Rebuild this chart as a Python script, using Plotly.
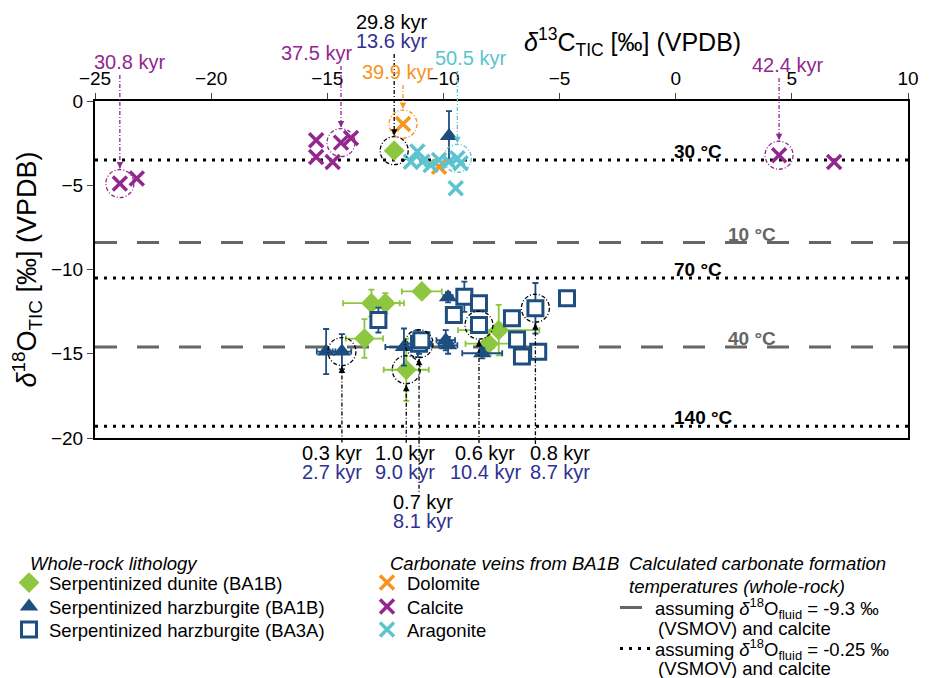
import plotly.graph_objects as go

# ---------------- data ----------------
dunite_x = [-12.12, -13.1, -12.5, -10.93, -13.4, -11.6, -7.62, -8.05]
dunite_y = [-2.95, -12.0, -12.0, -11.3, -14.1, -15.95, -13.6, -14.4]
dunite_xerr = [0.0, 1.22, 0.8, 0.86, 0.8, 0.97, 1.75, 1.0]
dunite_yerr = [0.0, 0.8, 0.6, 0.2, 1.15, 1.85, 1.5, 0.7]

harzA_x = [-9.76, -15.05, -14.37, -11.7, -9.8, -9.9, -9.8, -8.33, -11.1]
harzA_y = [-2.08, -14.87, -14.87, -14.6, -11.65, -14.2, -14.5, -14.97, -14.4]
harzA_xerr = [0.0, 0.4, 0.4, 0.8, 0.2, 0.4, 0.4, 0.86, 0.6]
harzA_yerr = [1.48, 1.34, 1.04, 1.1, 0.3, 0.6, 0.5, 0.3, 0.8]

harzB_x = [-12.8, -11.05, -10.95, -9.1, -8.47, -9.55, -8.47, -7.05, -6.83, -6.62, -5.92, -6.04, -4.68]
harzB_y = [-13.0, -14.4, -14.2, -11.62, -12.0, -12.7, -13.3, -12.9, -14.15, -15.17, -14.88, -12.3, -11.7]
harzB_xerr = [0.0, 0.5, 0.3, 0.0, 0.0, 0.0, 0.0, 0.0, 0.0, 0.0, 0.0, 0.0, 0.0]
harzB_yerr = [0.74, 0.6, 0.4, 0.9, 0.3, 0.3, 0.3, 0.3, 0.3, 0.3, 0.3, 1.5, 0.2]

dolomite_x = [-11.74, -10.19]
dolomite_y = [-1.37, -3.9]
calcite_x = [-23.93, -23.2, -15.48, -15.48, -14.77, -14.41, -13.98, 4.45, 6.82]
calcite_y = [-4.9, -4.6, -2.33, -3.32, -3.62, -2.47, -2.19, -3.22, -3.62]
aragonite_x = [-11.12, -11.4, -10.9, -10.55, -10.19, -9.76, -9.4, -9.26, -9.47]
aragonite_y = [-3.0, -3.6, -3.6, -3.8, -3.5, -3.6, -3.4, -3.7, -5.18]

# temperature reference lines
dashed_y = [-8.4, -14.6]
dashed_labels = ["10 °C", "40 °C"]
dotted_y = [-3.5, -10.5, -19.3]
dotted_labels = ["30 °C", "70 °C", "140 °C"]

x_ticks = [-25, -20, -15, -10, -5, 0, 5, 10]
y_ticks = [0, -5, -10, -15, -20]

# colours
GREEN = "#8DC63F"
NAVY = "#1D4E7F"
INDIGO = "#2E3192"
PURPLE = "#92278F"
ORANGE = "#F7941D"
CYAN = "#5BC4CF"
GREY = "#666666"

# age annotations above the plot:
# (point x, point y, circle colour, [(text, colour), ...], label x, first-row px)
top_ages = [
    (calcite_x[0], calcite_y[0], PURPLE, [("30.8 kyr", PURPLE)], -23.5, 62),
    (calcite_x[5], calcite_y[5], PURPLE, [("37.5 kyr", PURPLE)], -15.45, 53),
    (dunite_x[0], dunite_y[0], "black", [("29.8 kyr", "black"), ("13.6 kyr", INDIGO)], -12.22, 22),
    (dolomite_x[0], dolomite_y[0], ORANGE, [("39.9 kyr", ORANGE)], -11.96, 72),
    (aragonite_x[6], aragonite_y[6], CYAN, [("50.5 kyr", CYAN)], -8.82, 58),
    (calcite_x[7], calcite_y[7], PURPLE, [("42.4 kyr", PURPLE)], 4.82, 65),
]
# age annotations below the plot
bottom_ages = [
    (harzA_x[2], harzA_y[2], "0.3 kyr", "2.7 kyr", -14.81, 453),
    (dunite_x[5], dunite_y[5], "1.0 kyr", "9.0 kyr", -11.66, 453),
    (harzB_x[1], harzB_y[1], "0.7 kyr", "8.1 kyr", -10.88, 502),
    (harzB_x[6], harzB_y[6], "0.6 kyr", "10.4 kyr", -8.2, 453),
    (harzB_x[11], harzB_y[11], "0.8 kyr", "8.7 kyr", -4.98, 453),
]

# ---------------- figure ----------------
# page body has an 8px margin: figure size / margins compensate for it
OFF = 8
W, H = 934 - OFF, 678 - OFF
PL, PR, PT, PB = 95, 908, 101, 438          # plot area in page pixels
ML, MR, MT, MB = PL - OFF, 934 - PR, PT - OFF, 678 - PB
PH = PB - PT
PW = PR - PL
FONT = "Liberation Sans, Arial, sans-serif"
AGE_FS = 20
ROW = 19


def py2paper(py):
    return (PB - py) / PH


def px2paper(px):
    return (px - PL) / PW


def data2paper(y):
    return (y + 20) / 20


fig = go.Figure()

fig.add_trace(go.Scatter(
    x=[-25, 10, None, -25, 10], y=[dashed_y[0]] * 2 + [None] + [dashed_y[1]] * 2,
    mode="lines", line=dict(color=GREY, width=3, dash="22px,20px"),
    name="assuming <i>δ</i><sup>18</sup>O<sub>fluid</sub> = -9.3 ‰",
    legend="legend7", hoverinfo="skip"))
fig.add_trace(go.Scatter(
    x=[-25, 10, None, -25, 10, None, -25, 10],
    y=[dotted_y[0]] * 2 + [None] + [dotted_y[1]] * 2 + [None] + [dotted_y[2]] * 2,
    mode="lines", line=dict(color="black", width=3, dash="3px,6px"),
    name="assuming <i>δ</i><sup>18</sup>O<sub>fluid</sub> = -0.25 ‰",
    legend="legend8", hoverinfo="skip"))

fig.add_trace(go.Scatter(
    x=dunite_x, y=dunite_y, mode="markers", name="Serpentinized dunite (BA1B)",
    marker=dict(symbol="diamond", size=16, color=GREEN),
    error_x=dict(type="data", array=dunite_xerr, color=GREEN, thickness=1.8, width=3),
    error_y=dict(type="data", array=dunite_yerr, color=GREEN, thickness=1.8, width=3),
    legend="legend"))
fig.add_trace(go.Scatter(
    x=harzA_x, y=harzA_y, mode="markers", name="Serpentinized harzburgite (BA1B)",
    marker=dict(symbol="triangle-up", size=16, color=NAVY),
    error_x=dict(type="data", array=harzA_xerr, color=NAVY, thickness=1.8, width=3),
    error_y=dict(type="data", array=harzA_yerr, color=NAVY, thickness=1.8, width=3),
    legend="legend2"))
fig.add_trace(go.Scatter(
    x=harzB_x, y=harzB_y, mode="markers", name="Serpentinized harzburgite (BA3A)",
    marker=dict(symbol="square", size=15, color="white", line=dict(width=3, color=NAVY)),
    error_x=dict(type="data", array=harzB_xerr, color=NAVY, thickness=1.8, width=3),
    error_y=dict(type="data", array=harzB_yerr, color=NAVY, thickness=1.8, width=3),
    legend="legend3"))

for xs, ys, col, nm, lg in [(dolomite_x, dolomite_y, ORANGE, "Dolomite", "legend4"),
                            (calcite_x, calcite_y, PURPLE, "Calcite", "legend5"),
                            (aragonite_x, aragonite_y, CYAN, "Aragonite", "legend6")]:
    fig.add_trace(go.Scatter(
        x=xs, y=ys, mode="markers", name=nm,
        marker=dict(symbol="x-thin", size=14, color=col, line=dict(width=3.5, color=col)),
        legend=lg))

DASHDOT = "4px,2px,1px,2px"
R = 14

# temperature labels
for yv, lab in zip(dotted_y, dotted_labels):
    fig.add_annotation(x=-0.15, y=yv, text=f"<b>{lab}</b>", showarrow=False, xanchor="left",
                       yanchor="bottom", yshift=-4, font=dict(size=19, color="black", family=FONT))
for yv, lab in zip(dashed_y, dashed_labels):
    fig.add_annotation(x=2.15, y=yv, text=f"<b>{lab}</b>", showarrow=False, xanchor="left",
                       yanchor="bottom", yshift=-4, font=dict(size=19, color=GREY, family=FONT))

# top age annotations
for (x, y, col, rows, lx, ly) in top_ages:
    fig.add_shape(type="circle", xref="x", yref="y", xsizemode="pixel", ysizemode="pixel",
                  xanchor=x, yanchor=y, x0=-R, x1=R, y0=-R, y1=R,
                  line=dict(color=col, width=1.3, dash=DASHDOT), layer="above")
    for i, (t, c) in enumerate(rows):
        fig.add_annotation(x=lx, y=py2paper(ly + i * ROW), yref="paper", text=t,
                           showarrow=False, xanchor="center", yanchor="middle",
                           font=dict(size=AGE_FS, family=FONT, color=c))
    top_py = ly + (len(rows) - 1) * ROW + 13
    circ_top_paper = data2paper(y) + (R + 1) / PH
    fig.add_shape(type="line", xref="x", yref="paper", x0=x, x1=x,
                  y0=py2paper(top_py), y1=circ_top_paper,
                  line=dict(color=col, width=1.3, dash=DASHDOT), layer="above")
    fig.add_annotation(x=x, y=circ_top_paper, yref="paper", text="", showarrow=True,
                       ax=0, ay=-7, arrowhead=2, arrowsize=1, arrowwidth=1.3, arrowcolor=col)

# bottom age annotations
for (x, y, l1, l2, lx, ly) in bottom_ages:
    fig.add_shape(type="circle", xref="x", yref="y", xsizemode="pixel", ysizemode="pixel",
                  xanchor=x, yanchor=y, x0=-R, x1=R, y0=-R, y1=R,
                  line=dict(color="black", width=1.3, dash=DASHDOT), layer="above")
    fig.add_annotation(x=lx, y=py2paper(ly), yref="paper", text=l1, showarrow=False,
                       xanchor="center", yanchor="middle",
                       font=dict(size=AGE_FS, family=FONT, color="black"))
    fig.add_annotation(x=lx, y=py2paper(ly + ROW), yref="paper", text=l2, showarrow=False,
                       xanchor="center", yanchor="middle",
                       font=dict(size=AGE_FS, family=FONT, color=INDIGO))
    circ_bot_paper = data2paper(y) - (R + 1) / PH
    fig.add_shape(type="line", xref="x", yref="paper", x0=x, x1=x,
                  y0=circ_bot_paper, y1=py2paper(ly - 9),
                  line=dict(color="black", width=1.3, dash=DASHDOT), layer="above")
    fig.add_annotation(x=x, y=circ_bot_paper, yref="paper", text="", showarrow=True,
                       ax=0, ay=7, arrowhead=2, arrowsize=1, arrowwidth=1.3, arrowcolor="black")

# x-axis title (top)
fig.add_annotation(x=px2paper(632), y=py2paper(22), xref="paper", yref="paper", showarrow=False,
                   text="<i>δ</i><sup>13</sup>C<sub>TIC</sub> [‰] (VPDB)",
                   font=dict(size=25, family=FONT, color="black"))

# legend headings and continuation lines
LEG_FS = 18.5
for txt, lx, ly in [("<i>Whole-rock lithology</i>", 28, 563),
                    ("<i>Carbonate veins from BA1B</i>", 388, 563),
                    ("<i>Calculated carbonate formation</i>", 627, 563),
                    ("<i>temperatures (whole-rock)</i>", 627, 586),
                    ("(VSMOV) and calcite", 656, 628),
                    ("(VSMOV) and calcite", 656, 668)]:
    fig.add_annotation(x=px2paper(lx), y=py2paper(ly), xref="paper", yref="paper", text=txt,
                       showarrow=False, xanchor="left", yanchor="middle",
                       font=dict(size=LEG_FS, family=FONT, color="black"))

leg_common = dict(font=dict(size=LEG_FS, family=FONT, color="black"), bgcolor="rgba(0,0,0,0)",
                  xanchor="left", yanchor="middle", tracegroupgap=0)
legend_pos = {
    "legend": (9, 583), "legend2": (9, 607), "legend3": (9, 630),
    "legend4": (367, 583), "legend5": (367, 607), "legend6": (367, 630),
    "legend7": (615, 608), "legend8": (615, 649),
}
legends = {k: dict(x=px2paper(px), y=py2paper(py), **leg_common) for k, (px, py) in legend_pos.items()}

fig.update_layout(
    width=W, height=H,
    margin=dict(l=ML, r=MR, t=MT, b=MB, autoexpand=False),
    paper_bgcolor="white", plot_bgcolor="white",
    font=dict(family=FONT, color="black"),
    showlegend=True,
    **legends,
    xaxis=dict(range=[-25, 10], side="top", tickvals=x_ticks, ticks="outside", ticklen=6,
               showline=True, linecolor="black", linewidth=2, mirror=True, showgrid=False,
               zeroline=False, tickfont=dict(size=19, family=FONT)),
    yaxis=dict(range=[-20, 0], tickvals=y_ticks, ticks="outside", ticklen=6,
               showline=True, linecolor="black", linewidth=2, mirror=True, showgrid=False,
               zeroline=False, tickfont=dict(size=19, family=FONT),
               title=dict(text="<i>δ</i><sup>18</sup>O<sub>TIC</sub> [‰] (VPDB)",
                          font=dict(size=27, family=FONT), standoff=12)),
)

fig.write_html("out.html")
